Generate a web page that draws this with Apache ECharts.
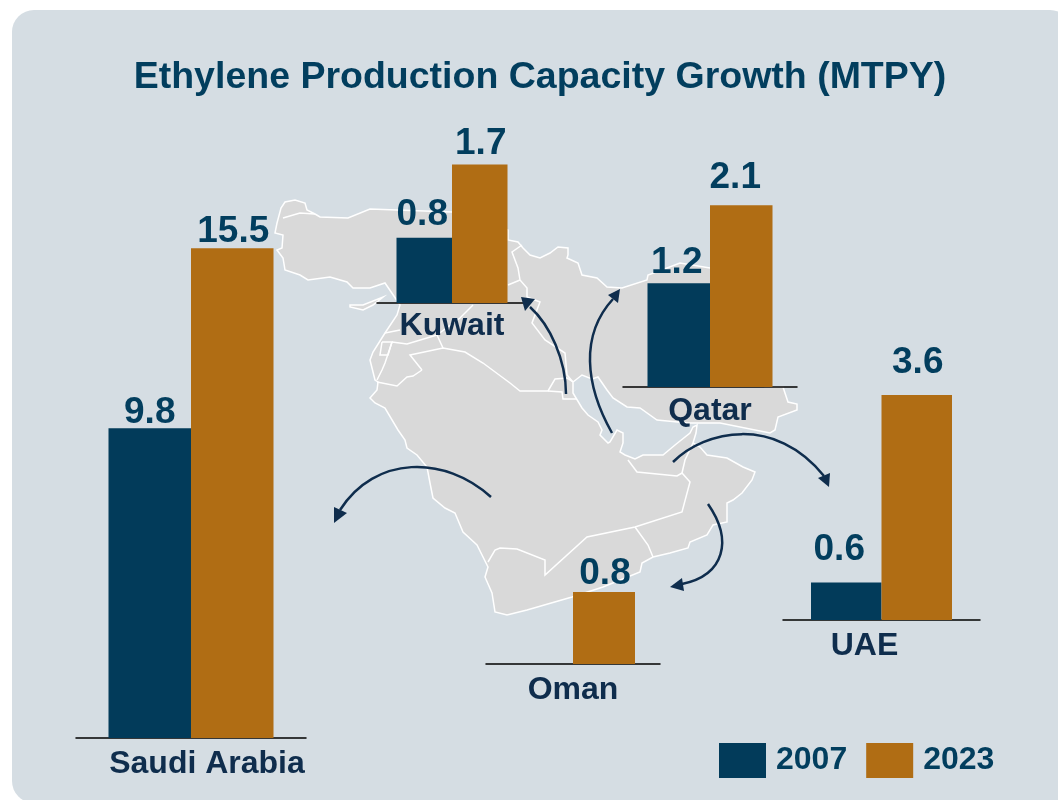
<!DOCTYPE html>
<html>
<head>
<meta charset="utf-8">
<title>Ethylene Production Capacity Growth</title>
<script src="https://cdn.jsdelivr.net/npm/echarts@6/dist/echarts.min.js"></script>
<style>
    html, body { margin: 0; padding: 0; background: #fff; }
    #chart { width: 1058px; height: 800px; }
</style>
</head>
<body>
<div id="chart"></div>
<script>
// values
const countries = ['Saudi Arabia', 'Kuwait', 'Qatar', 'UAE', 'Oman']
const values2007 = [9.8, 0.8, 1.2, 0.6, null]
const values2023 = [15.5, 1.7, 2.1, 3.6, 0.8]
const seriesNames = ['2007', '2023']

const NAVY = '#023B5A'
const ORANGE = '#B06D14'
const LABEL = '#023E5E'
const DARK = '#0F2D4D'
const LAND = '#D9D9D9'

// one small grid per country, same order as countries
const layout = [
    { left: 76, width: 230, base: 738, max: 16, scale: 31.6, bar: 82.5, margin: 10, pad: [0, 0, 0, 32], gap: [-3, -2], dx: [0, 1] },
    { left: 377, width: 150, base: 303, max: 2, scale: 81.5, bar: 55.5, margin: 7, pad: 0, gap: [5, 2], dx: [-2, 1] },
    { left: 623, width: 174, base: 387, max: 2.5, scale: 86.5, bar: 62.5, margin: 8, pad: 0, gap: [2, 9], dx: [-2, -6] },
    { left: 783, width: 197, base: 620, max: 4, scale: 62.5, bar: 70.5, margin: 10, pad: [0, 34, 0, 0], gap: [14, 14], dx: [-7, 1] },
    { left: 486, width: 174, base: 664, max: 1, scale: 90, bar: 62, margin: 10, pad: 0, gap: [0, 0], dx: [1, 1] },
]

// map outlines, screen pixels
const landOutline = [
    [277, 223], [281, 208], [285, 202], [295, 200], [305, 203], [307, 210], [315, 214], [320, 217], [348, 218], [370, 209], [397, 210],
    [452, 212], [508, 230], [508, 240], [518, 242], [523, 248], [530, 255], [540, 258], [550, 253], [558, 247], [568, 248], [568, 255],
    [567, 258], [578, 263], [582, 275], [597, 278], [607, 287], [622, 288], [647, 280], [648, 275], [667, 268], [680, 263], [710, 268],
    [765, 268], [765, 387], [783, 387], [788, 402], [797, 404], [797, 410], [778, 417],
    [775, 430], [770, 433], [720, 423], [697, 423], [688, 423], [657, 420], [640, 408], [627, 407], [613, 398], [607, 390], [598, 377],
    [592, 379], [582, 375], [573, 382], [573, 393], [582, 408], [588, 415], [598, 422], [602, 430], [600, 435], [608, 443], [610, 442],
    [617, 430], [623, 433], [623, 443], [620, 452], [625, 455], [635, 459], [643, 455], [663, 455], [675, 445], [690, 433], [693, 427],
    [697, 425], [696, 433], [693, 443], [700, 447],
    [707, 455], [727, 458], [743, 467], [755, 472], [752, 480], [742, 493], [733, 500], [727, 503], [727, 522], [713, 525], [707, 535],
    [690, 542], [688, 548], [670, 553], [653, 557], [642, 563], [640, 572], [603, 587], [572, 597], [527, 610], [507, 615], [495, 612],
    [492, 593], [485, 577], [488, 567], [477, 545], [463, 532], [455, 513], [445, 508], [433, 498], [430, 483], [427, 467], [417, 455],
    [407, 448], [405, 440], [398, 430], [385, 408], [375, 403], [370, 398], [377, 390], [378, 382], [375, 380], [370, 360], [373, 352],
    [385, 333], [397, 315], [400, 305],
    [385, 283], [370, 288], [353, 288], [347, 282], [330, 277], [308, 280], [300, 275], [285, 270], [283, 258], [277, 250], [282, 248],
    [283, 235], [275, 233],
]
const cyprus = [[350, 305], [363, 305], [383, 297], [373, 305], [363, 310], [350, 307]]
const borders = [
    [[422, 370], [410, 355], [443, 348], [465, 352], [483, 363], [510, 383], [520, 391], [548, 391], [555, 379], [567, 378], [573, 382]],
    [[548, 391], [562, 392], [563, 399], [577, 399]],
    [[377, 382], [397, 386], [407, 377], [413, 376], [422, 370]],
    [[443, 348], [437, 335], [460, 318], [473, 305]],
    [[392, 342], [407, 344], [437, 335]],
    [[385, 333], [400, 330]],
    [[382, 342], [392, 342], [388, 355], [380, 355], [382, 342]],
    [[392, 342], [385, 363], [382, 370], [377, 380]],
    [[522, 245], [512, 252], [518, 268], [520, 280], [527, 288], [527, 297], [540, 302], [532, 323], [545, 340], [565, 353], [567, 375], [573, 382]],
    [[508, 285], [520, 280]],
    [[488, 562], [495, 550], [500, 548], [517, 549], [545, 560], [545, 575], [587, 537], [635, 527], [682, 512], [690, 482], [682, 473], [677, 476], [637, 472], [628, 460]],
    [[635, 527], [648, 545], [653, 557]],
    [[682, 473], [685, 460], [693, 443]],
    [[283, 218], [300, 213], [315, 214]],
]

// [tail, control1, control2, end of curve], then arrow head
const arrows = [
    { curve: [566, 394, 566, 360, 550, 325, 530, 307], head: [[521, 297], [535, 299], [525, 311]] },
    { curve: [612, 433, 585, 385, 580, 335, 613, 299], head: [[620, 289], [608, 295], [618, 303]] },
    { curve: [673, 462, 705, 430, 775, 415, 824, 476], head: [[829, 487], [818, 478], [830, 473]] },
    { curve: [708, 504, 733, 540, 725, 575, 682, 584], head: [[670, 587], [682, 578], [684, 591]] },
    { curve: [491, 497, 445, 455, 375, 455, 340, 510], head: [[334, 523], [334, 507], [347, 513]] },
]

const grid = []
const xAxis = []
const yAxis = []
const series = []

countries.forEach((name, i) => {
    const l = layout[i]
    grid.push({ left: l.left, width: l.width, bottom: 800 - l.base, height: l.max * l.scale })
    xAxis.push({
        type: 'category',
        gridIndex: i,
        data: [name],
        axisTick: { show: false },
        axisLine: { lineStyle: { color: '#000', width: 1.5 } },
        axisLabel: {
            interval: 0,
            margin: l.margin,
            padding: l.pad,
            color: DARK,
            fontFamily: 'Liberation Sans',
            fontWeight: 'bold',
            fontSize: 32,
        },
    })
    yAxis.push({ type: 'value', gridIndex: i, min: 0, max: l.max, show: false })
    ;[values2007, values2023].forEach((values, s) => {
        series.push({
            name: seriesNames[s],
            type: 'bar',
            xAxisIndex: i,
            yAxisIndex: i,
            barWidth: l.bar,
            barGap: 0,
            itemStyle: { color: s === 0 ? NAVY : ORANGE },
            label: {
                show: true,
                position: 'top',
                distance: l.gap[s],
                offset: [l.dx[s], 0],
                color: LABEL,
                fontFamily: 'Liberation Sans',
                fontWeight: 'bold',
                fontSize: 37,
            },
            data: [values[i]],
        })
    })
})

// background panel, map and arrows
const graphic = [
    { type: 'rect', z: -10, shape: { x: 12, y: 10, width: 1060, height: 793, r: 22 }, style: { fill: '#D5DDE3' } },
    { type: 'polygon', z: -5, shape: { points: landOutline }, style: { fill: LAND, stroke: '#fff', lineWidth: 1.5 } },
    { type: 'polygon', z: -5, shape: { points: cyprus }, style: { fill: LAND, stroke: '#fff', lineWidth: 1.5 } },
]
borders.forEach(points => {
    graphic.push({ type: 'polyline', z: -4, shape: { points }, style: { fill: null, stroke: '#fff', lineWidth: 1.5 } })
})
arrows.forEach(a => {
    const c = a.curve
    graphic.push({
        type: 'bezierCurve',
        z: 20,
        shape: { x1: c[0], y1: c[1], cpx1: c[2], cpy1: c[3], cpx2: c[4], cpy2: c[5], x2: c[6], y2: c[7] },
        style: { fill: null, stroke: DARK, lineWidth: 2.5 },
    })
    graphic.push({ type: 'polygon', z: 20, shape: { points: a.head }, style: { fill: DARK } })
})

const chart = echarts.init(document.getElementById('chart'), null, { renderer: 'canvas' })
chart.setOption({
    animation: false,
    backgroundColor: '#fff',
    title: {
        text: 'Ethylene Production Capacity Growth (MTPY)',
        left: 535,
        top: 54,
        textAlign: 'center',
        textStyle: { color: LABEL, fontFamily: 'Liberation Sans', fontWeight: 'bold', fontSize: 37.5 },
    },
    legend: {
        data: seriesNames,
        left: 719,
        top: 743,
        icon: 'rect',
        itemWidth: 47,
        itemHeight: 35,
        itemGap: 19,
        padding: 0,
        selectedMode: false,
        textStyle: { color: LABEL, fontFamily: 'Liberation Sans', fontWeight: 'bold', fontSize: 32, padding: [4, 0, 0, 5] },
    },
    grid,
    xAxis,
    yAxis,
    series,
    graphic,
})
</script>
</body>
</html>
